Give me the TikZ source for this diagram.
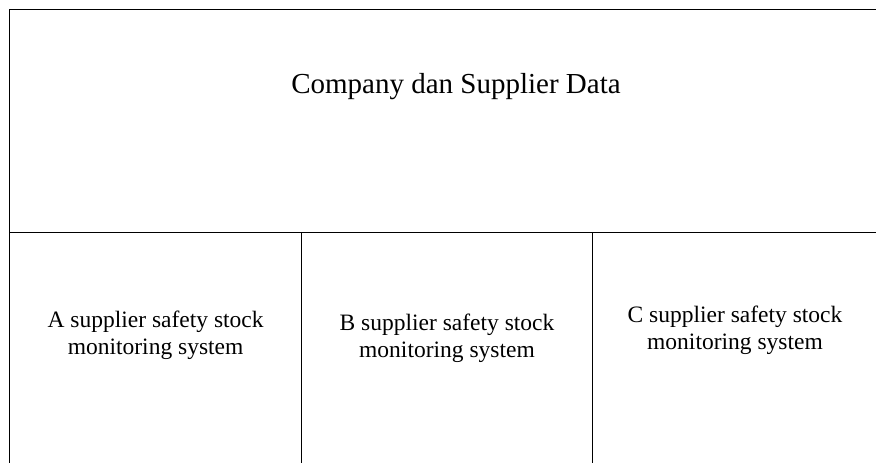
\documentclass[tikz,border=0pt]{standalone}
\usepackage{fontspec}
\setmainfont{Liberation Serif}
\usetikzlibrary{positioning}

\begin{document}
\begin{tikzpicture}[x=1pt,y=-1pt]
  \useasboundingbox (0,0) rectangle (876,463);
  \begin{scope}[line width=1pt]
  	% upper box, open on the right
  	\draw (876,9.5) -- (9.5,9.5) -- (9.5,463);
  	\draw (9.5,232) -- (876,232);
  	% three columns, open at the bottom
  	\draw (301.7,232) -- (301.7,463);
  	\draw (592.3,232) -- (592.3,463);
  	\node[font=\fontsize{29}{33}\selectfont] (data) at (456,87) {Company dan Supplier Data};
  	\node[align=center, font=\fontsize{23.5}{27}\selectfont] (supA) at (155.6,335) {A supplier safety stock\\monitoring system};
  	\node[align=center, font=\fontsize{23.5}{27}\selectfont] (supB) at (447,338) {B supplier safety stock\\monitoring system};
  	\node[align=center, font=\fontsize{23.5}{27}\selectfont] (supC) at (735,330) {C supplier safety stock\\monitoring system};
  \end{scope}
\end{tikzpicture}
\end{document}
